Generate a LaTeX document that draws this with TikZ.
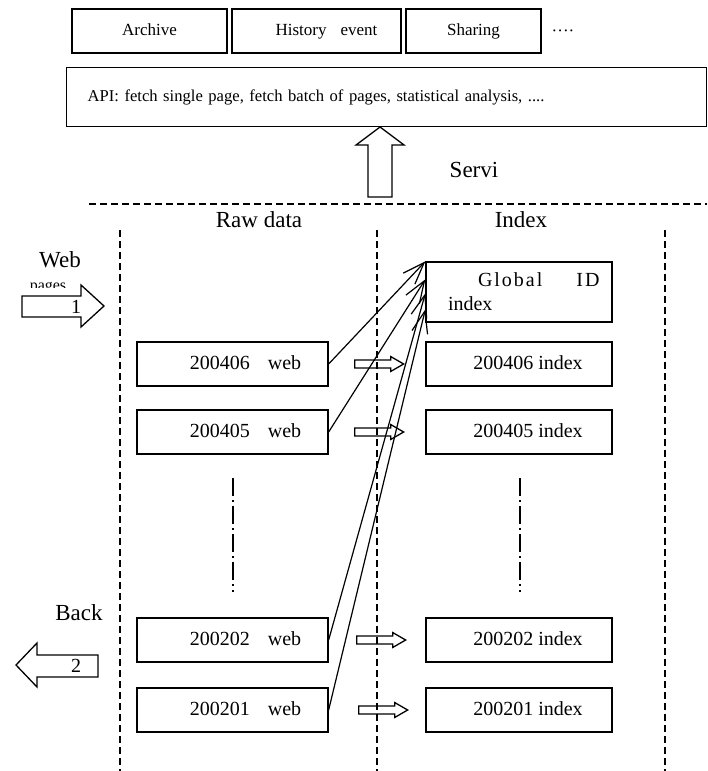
\documentclass[tikz,border=0pt]{standalone}
\usepackage{fontspec}
\setmainfont{Liberation Serif}
\usetikzlibrary{positioning, arrows.meta, calc}

\begin{document}
\begin{tikzpicture}[x=1pt, y=-1pt,
    box/.style={draw, line width=1.3pt, inner sep=0pt, minimum height=44pt},
    topbox/.style={box, text height=12pt, text depth=4pt, font=\fontsize{17}{19}\selectfont},
    rowbox/.style={box, minimum width=191pt, text height=14pt, text depth=4pt, font=\fontsize{20}{22}\selectfont},
    head/.style={font=\fontsize{23}{25}\selectfont},
    sep/.style={line width=1.2pt, dash pattern=on 7pt off 4pt},
    dashdot/.style={line width=1.2pt, dash pattern=on 18pt off 4pt on 2pt off 4pt},
    hollow/.style={draw, line width=1.3pt, line join=miter},
    feed/.style={line width=1.2pt, -{Straight Barb[length=22pt, width=16pt]}}]

    \useasboundingbox (0,0) rectangle (707,771);

    \node[topbox, minimum width=155pt] (arch) at (149.5,31) {Archive\hspace{24pt}};
    \node[topbox, minimum width=169pt] (hist) at (316.5,31) {\hspace{20pt}History\hspace{14pt}event};
    \node[topbox, minimum width=135pt] (share) at (473.5,31) {Sharing};
    \node[font=\fontsize{17}{19}\selectfont] (more) at (563,33) {····};

    \node[box, anchor=north west, minimum height=59pt, text width=598pt, inner xsep=21pt,
          align=left, font=\fontsize{16.6}{18}\selectfont] (api) at (66,67)
          {API: fetch single page, fetch batch of pages, statistical analysis, ....};

    \draw[hollow] (368,197) -- (368,145) -- (356,145) -- (380,127) -- (404,145) -- (392,145) -- (392,197) -- cycle;
    \node[head] (serv) at (474,170) {Servi};

    \draw[sep] (89,204) -- (707,204);
    \foreach \x in {120,377,665}
        \draw[sep] (\x,230) -- (\x,771);

    \node[head] (raw) at (259,220) {Raw data};
    \node[head] (idx) at (521,220) {Index};

    \node[box, minimum width=186pt, minimum height=60pt, text width=142pt, inner xsep=22pt,
          align=left, font=\fontsize{20}{24}\selectfont] (gid) at (519,292)
          {\mbox{\hspace{30pt}\addfontfeature{LetterSpace=10}Global\hspace{34pt}ID}\\index};

    \foreach \yr/\y/\n/\dx in {200406/364/6/26, 200405/432/5/26, 200202/640/2/28, 200201/710/1/30} {
        \node[rowbox] (w\n) at (232.5,\y) {\hspace{26pt}\yr\hspace{18pt}web};
        \node[rowbox, minimum width=186pt] (i\n) at (519,\y) {\hspace{18pt}\yr{} index};
        \draw[hollow] ($(w\n.east)+(\dx,-4)$) -- ++(36,0) -- ++(0,-3.5) -- ++(13,7.5)
            -- ++(-13,7.5) -- ++(0,-3.5) -- ++(-36,0) -- cycle;
    }

    \draw[feed] (w6.east) -- (gid.north west);
    \draw[feed] (w5.east) -- ($(gid.north west)+(0,18)$);
    \draw[feed] (w2.east) -- ($(gid.north west)+(0,32)$);
    \draw[feed] (w1.east) -- ($(gid.north west)+(0,48)$);

    \draw[dashdot] (233,478) -- (233,592);
    \draw[dashdot] (520,478) -- (520,592);

    \node[head] (web) at (60,260) {Web};
    \begin{scope}
        \clip (20,240) rectangle (115,287);
        \node[font=\fontsize{16}{18}\selectfont, anchor=base] (pages) at (48,290) {pages};
    \end{scope}
    \draw[hollow] (22,296) -- (81,296) -- (81,285) -- (104,306) -- (81,327) -- (81,317) -- (22,317) -- cycle;
    \node[font=\fontsize{20}{22}\selectfont] (one) at (76,307) {1};

    \node[head] (back) at (79,613) {Back};
    \draw[hollow] (98,655) -- (37,655) -- (37,643) -- (16,665) -- (37,687) -- (37,677) -- (98,677) -- cycle;
    \node[font=\fontsize{20}{22}\selectfont] (two) at (76,666) {2};
\end{tikzpicture}
\end{document}
